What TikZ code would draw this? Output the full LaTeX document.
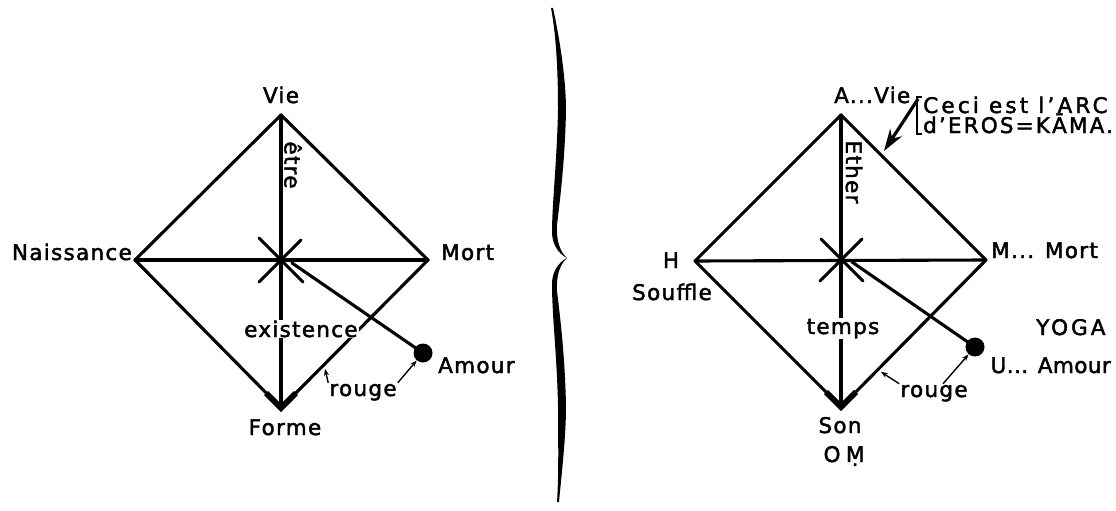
\documentclass[tikz,border=0pt]{standalone}
\usepackage{fontspec}
\setmainfont{DejaVu Sans}[LetterSpace=6, FakeBold=2]
\usepackage{tikz}
\usetikzlibrary{arrows.meta,calc}

\begin{document}
\begin{tikzpicture}[
    x=1pt, y=-1pt,
    font=\fontsize{21.5}{24}\selectfont,
    arm/.style={line width=3.1pt, line cap=round, line join=round},
    foot/.style={line width=5.8pt, line join=miter},
    lbl/.style={inner sep=1pt},
    cutlbl/.style={inner sep=1pt, fill=white},
    vert/.style={inner sep=1pt, rotate=-90},
    pointer/.style={-{Stealth[length=7pt,width=5pt]}, line width=1.4pt},
    bigpointer/.style={-{Stealth[length=22pt,width=14pt]}, line width=3.2pt},
    bead/.style={circle, fill=black, inner sep=0pt, minimum size=19pt}
]
    \fill[white] (0,0) rectangle (1116,511);
    \useasboundingbox (0,0) rectangle (1116,511);

    % Coins des losanges
    \coordinate (T1) at (281,115);
    \coordinate (B1) at (281,408);
    \coordinate (L1) at (135,260);
    \coordinate (R1) at (428,260);
    \coordinate (C1) at (281,260);
    \coordinate (T2) at (841,115);
    \coordinate (B2) at (841,407);
    \coordinate (L2) at (695,261);
    \coordinate (R2) at (986,260);
    \coordinate (C2) at (842,260);

    % Losange gauche
    \draw[arm] (T1) -- (R1) -- (B1) -- (L1) -- cycle;
    \draw[arm] (L1) -- (R1);
    \draw[arm] (T1) -- (B1);
    \draw[arm] ($(C1)+(-22,-22)$) -- ($(C1)+(22,22)$);
    \draw[arm] ($(C1)+(20,-20)$) -- ($(C1)+(-22,22)$);
    \draw[foot] ($(B1)+(-15,-15)$) -- (B1) -- ($(B1)+(15,-15)$);

    % Losange droit
    \draw[arm] (T2) -- (R2) -- (B2) -- (L2) -- cycle;
    \draw[arm] (L2) -- (R2);
    \draw[arm] (T2) -- (B2);
    \draw[arm] ($(C2)+(-21,-21)$) -- ($(C2)+(21,21)$);
    \draw[arm] ($(C2)+(20,-21)$) -- ($(C2)+(-22,21)$);
    \draw[foot] ($(B2)+(-15,-15)$) -- (B2) -- ($(B2)+(15,-15)$);

    % Amour
    \node[bead] (dot1) at (423,353) {};
    \node[bead] (dot2) at (975,347) {};
    \coordinate (S1) at ($(C1)+(11,3)$);
    \coordinate (S2) at ($(C2)+(10,2)$);
    \draw[arm] (S1) -- (dot1.center);
    \draw[arm] (S2) -- (dot2.center);

    % Textes gauche
    \node[lbl, anchor=base] (vie) at (281,103) {Vie};
    \node[vert] (etre) at (293,165) {être};
    \node[lbl, anchor=base east] (naissance) at (133,260) {Naissance};
    \node[lbl, anchor=base west] (mort) at (440,260) {Mort};
    \node[cutlbl, anchor=base west] (existence) at (243,337) {existence};
    \node[lbl, anchor=base west] (amour) at (437,373) {Amour};
    \node[lbl, anchor=base] (rouge1) at (363,396) {rouge};
    \node[lbl, anchor=base] (forme) at (285,435) {Forme};

    % Textes droite
    \node[lbl, anchor=base west] (avie) at (833,103) {A...Vie};
    \node[vert] (ether) at (854,172) {Ether};
    \node[lbl, anchor=base] (h) at (671,268) {H};
    \node[lbl, anchor=base east] (souffle) at (713,300) {Souffle};
    \node[lbl, anchor=base west] (mmort) at (990,258) {M... Mort};
    \node[cutlbl, anchor=base] (temps) at (843,334) {temps};
    \node[lbl, anchor=base west, font=\fontsize{21.5}{24}\selectfont\addfontfeatures{LetterSpace=14}] (yoga) at (1035,335) {YOGA};
    \node[lbl, anchor=base east, font=\fontsize{21.5}{24}\selectfont\addfontfeatures{LetterSpace=2}] (uamour) at (1112,373) {U... Amour};
    \node[lbl, anchor=base] (rouge2) at (934,397) {rouge};
    \node[lbl, anchor=base] (son) at (840,433) {Son};
    \node[lbl, anchor=base, font=\fontsize{21.5}{24}\selectfont\addfontfeatures{LetterSpace=25}] (om) at (844,462) {OṂ};

    % Rouge
    \coordinate (rg1) at ($(R1)!0.735!(B1)+(5,0)$);
    \coordinate (rg2) at ($(R2)!0.76!(B2)+(5,0)$);
    \draw[pointer] (rouge1.north west) -- (rg1);
    \draw[pointer] (rouge1.north east) -- (dot1);
    \draw[pointer] (rouge2.north west) -- (rg2);
    \draw[pointer] ([xshift=9pt]rouge2.north) -- (dot2);

    % Arc d'Eros
    \node[lbl, anchor=base west, font=\fontsize{21.5}{24}\selectfont\addfontfeatures{LetterSpace=15}] (ceci1) at (922,113) {Ceci est l'ARC};
    \node[lbl, anchor=base west, font=\fontsize{21.5}{24}\selectfont\addfontfeatures{LetterSpace=10}] (ceci2) at (922,133) {d'EROS=KĀMA.};
    \coordinate (brtop) at (917,97);
    \coordinate (brbot) at (917,134);
    \coordinate (arctip) at (884,151);
    \draw[line width=2pt] ([xshift=5pt]brtop) -- (brtop) -- (brbot) -- ([xshift=5pt]brbot);
    \draw[bigpointer] ([shift={(1,2)}]brtop) -- (arctip);

    % Accolade
    \fill (553,8) .. controls (560,40) and (566,80) .. (566,110)
        .. controls (565,160) and (560,200) .. (557,225)
        .. controls (556,240) and (560,252) .. (567,258)
        .. controls (559,254) and (552,245) .. (552,232)
        .. controls (552,205) and (557,160) .. (558,110)
        .. controls (558,80) and (557,40) .. (551,8) -- cycle;
    \fill (567,258) .. controls (560,264) and (556,276) .. (557,291)
        .. controls (560,316) and (565,356) .. (566,406)
        .. controls (566,436) and (562,470) .. (559,502)
        -- (557,502) .. controls (559,470) and (558,436) .. (558,406)
        .. controls (557,356) and (552,316) .. (552,284)
        .. controls (552,271) and (559,262) .. (567,258) -- cycle;
\end{tikzpicture}
\end{document}
